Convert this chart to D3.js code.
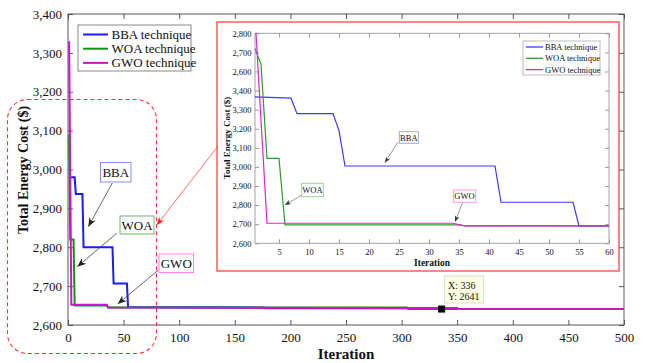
<!DOCTYPE html>
<html>
<head>
<meta charset="utf-8">
<script src="https://cdn.jsdelivr.net/npm/d3@7"></script>
<style>
  body { margin: 0; background: #fff; }
  svg { display: block; }
  text { font-family: "Liberation Serif", "Times New Roman", serif; fill: #111; }
</style>
</head>
<body>
<svg width="648" height="363"></svg>
<script>
// main chart series (iteration, cost)
const bbaX = [1, 6, 7, 13, 14, 40, 41, 53, 54, 176, 177, 350, 351, 500];
const bbaY = [2980, 2980, 2937, 2937, 2800, 2800, 2707, 2707, 2646, 2645, 2643, 2643, 2641, 2641];
const woaX = [1, 2, 5, 6, 35, 36, 305, 306, 500];
const woaY = [3090, 2820, 2820, 2650, 2650, 2645, 2645, 2641, 2641];
const gwoX = [1, 3, 35, 36, 350, 351, 500];
const gwoY = [3330, 2652, 2652, 2645, 2643, 2641, 2641];

// inset series (first 60 iterations, as drawn on the inset axis)
const bbaInX = [1, 7, 8, 14, 15, 16, 41, 42, 54, 55, 60];
const bbaInY = [3367, 3360, 3279, 3279, 3190, 3005, 3005, 2815, 2815, 2691, 2691];
const woaInX = [1, 2, 3, 5, 6, 35, 36, 60];
const woaInY = [3621, 3538, 3045, 3045, 2696, 2696, 2691, 2691];
const gwoInX = [1, 3, 34, 36, 60];
const gwoInY = [3790, 2705, 2705, 2691, 2691];

const names = ['BBA technique', 'WOA technique', 'GWO technique'];
const xTicks = d3.range(0, 501, 50);
const yTicks = d3.range(2600, 3401, 100);
const inXTicks = d3.range(5, 61, 5);
const inYTicks = d3.range(2600, 3701, 100);
const inYLabels = ['2,600', '2,700', '2,800', '2,900', '3,000', '3,100', '3,200', '3,300', '3,400', '2,600', '2,700', '2,800'];

const colors = ['#1a1aff', '#158f15', '#cc14cc'];
const inColors = ['#3a3aff', '#2e9a2e', '#dd22dd'];

const svg = d3.select('svg');
const defs = svg.append('defs');

function arrowMarker(id, color, size) {
  defs.append('marker')
    .attr('id', id)
    .attr('viewBox', '0 0 10 10')
    .attr('refX', 10).attr('refY', 5)
    .attr('markerWidth', size).attr('markerHeight', size)
    .attr('markerUnits', 'userSpaceOnUse')
    .attr('orient', 'auto')
    .append('path')
    .attr('d', 'M0,1 L10,5 L0,9 L3,5 Z')
    .attr('fill', color);
}
arrowMarker('arr', '#222', 9);
arrowMarker('arrS', '#333', 6);
arrowMarker('arrR', '#ff2020', 8);

// ---------- main chart ----------
const x = d3.scaleLinear().domain([0, 500]).range([68, 624]);
const y = d3.scaleLinear().domain([2600, 3400]).range([325, 14]);

defs.append('clipPath').attr('id', 'clipMain')
  .append('rect').attr('x', 68).attr('y', 14).attr('width', 556).attr('height', 311);

const g = svg.append('g');

const axB = g.append('g').attr('transform', 'translate(0,325)')
  .call(d3.axisBottom(x).tickValues(xTicks).tickSize(-5).tickPadding(8).tickFormat(d3.format('d')));
const axT = g.append('g').attr('transform', 'translate(0,14)')
  .call(d3.axisTop(x).tickValues(xTicks).tickSize(-5).tickFormat(''));
const axL = g.append('g').attr('transform', 'translate(68,0)')
  .call(d3.axisLeft(y).tickValues(yTicks).tickSize(-5).tickPadding(6).tickFormat(d3.format(',')));
const axR = g.append('g').attr('transform', 'translate(624,0)')
  .call(d3.axisRight(y).tickValues(yTicks).tickSize(-5).tickFormat(''));
[axB, axT, axL, axR].forEach((a) => {
  a.select('.domain').remove();
  a.selectAll('line').attr('stroke', '#555');
  a.selectAll('text').attr('font-size', 13).attr('font-family', '"Liberation Serif", serif').attr('fill', '#111');
});
g.append('rect').attr('x', 68).attr('y', 14).attr('width', 556).attr('height', 311)
  .attr('fill', 'none').attr('stroke', '#555').attr('stroke-width', 1);

g.append('text').attr('x', 346).attr('y', 359).attr('text-anchor', 'middle')
  .attr('font-size', 15).attr('font-weight', 'bold').text('Iteration');
g.append('text').attr('transform', 'translate(28,170) rotate(-90)').attr('text-anchor', 'middle')
  .attr('font-size', 14).attr('font-weight', 'bold').text('Total Energy Cost ($)');

const line = d3.line().x((d) => x(d[0])).y((d) => y(d[1]));
const mainSeries = [d3.zip(bbaX, bbaY), d3.zip(woaX, woaY), d3.zip(gwoX, gwoY)];
g.append('g').attr('clip-path', 'url(#clipMain)')
  .selectAll('path').data(mainSeries).join('path')
  .attr('d', line)
  .attr('fill', 'none')
  .attr('stroke', (d, i) => colors[i])
  .attr('stroke-width', 2);

// legend
const leg = g.append('g');
leg.append('rect').attr('x', 78).attr('y', 25).attr('width', 113).attr('height', 46)
  .attr('fill', '#fff').attr('stroke', '#888');
names.forEach((n, i) => {
  const yy = 34.5 + i * 14.2;
  leg.append('line').attr('x1', 83).attr('x2', 108).attr('y1', yy).attr('y2', yy)
    .attr('stroke', colors[i]).attr('stroke-width', 2);
  leg.append('text').attr('x', 111.5).attr('y', yy + 4.3).attr('font-size', 13).text(n);
});

// dashed highlight region
g.append('rect').attr('x', 7.5).attr('y', 99.5).attr('width', 149).attr('height', 254)
  .attr('rx', 20).attr('ry', 20)
  .attr('fill', 'none').attr('stroke', '#ff3030').attr('stroke-width', 1.1).attr('stroke-dasharray', '4,3');

// annotations on the main chart
const mainNotes = [
  { t: 'BBA', c: '#8a8aff', bx: 100.5, by: 162.5, bw: 30.5, bh: 19.5, ax: 112.3, ay: 183, tx: 88.3, ty: 226.7 },
  { t: 'WOA', c: '#6ab56a', bx: 120, by: 216, bw: 34, bh: 18, ax: 116.7, ay: 233.3, tx: 77.3, ty: 266.7 },
  { t: 'GWO', c: '#ff80ff', bx: 159, by: 254, bw: 34.5, bh: 18.5, ax: 158.3, ay: 270, tx: 117.7, ty: 304 }
];
mainNotes.forEach((a) => {
  g.append('line').attr('x1', a.ax).attr('y1', a.ay).attr('x2', a.tx).attr('y2', a.ty)
    .attr('stroke', '#444').attr('stroke-width', 0.8).attr('marker-end', 'url(#arr)');
  g.append('rect').attr('x', a.bx).attr('y', a.by).attr('width', a.bw).attr('height', a.bh)
    .attr('fill', '#fff').attr('stroke', a.c).attr('stroke-width', 1);
  g.append('text').attr('x', a.bx + a.bw / 2).attr('y', a.by + a.bh / 2 + 4.5)
    .attr('text-anchor', 'middle').attr('font-size', 13).text(a.t);
});

// data tip
const tipX = 336, tipY = 2641;
g.append('rect').attr('x', 444.5).attr('y', 276).attr('width', 39).attr('height', 27)
  .attr('fill', '#ffffe1').attr('stroke', '#ddd');
g.append('text').attr('x', 448).attr('y', 288.5).attr('font-size', 10)
  .attr('font-family', '"Liberation Sans", Arial, sans-serif').text('X: ' + tipX);
g.append('text').attr('x', 448).attr('y', 299.5).attr('font-size', 10)
  .attr('font-family', '"Liberation Sans", Arial, sans-serif').text('Y: ' + tipY);
g.append('rect').attr('x', x(tipX) - 3.5).attr('y', y(tipY) - 3.5).attr('width', 7).attr('height', 7)
  .attr('fill', '#000');

// ---------- inset ----------
const ix = d3.scaleLinear().domain([1, 60]).range([255, 609]);
const iy = d3.scaleLinear().domain([2600, 3700]).range([243.3, 33.3]);

const ins = svg.append('g');
ins.append('rect').attr('x', 217).attr('y', 22).attr('width', 402).attr('height', 249)
  .attr('fill', '#fff').attr('stroke', '#ff3535').attr('stroke-width', 1.2);

defs.append('clipPath').attr('id', 'clipIn')
  .append('rect').attr('x', 255).attr('y', 33.3).attr('width', 354).attr('height', 210);

const iB = ins.append('g').attr('transform', 'translate(0,243.3)')
  .call(d3.axisBottom(ix).tickValues(inXTicks).tickSize(-4).tickPadding(5.5).tickFormat(d3.format('d')));
const iT = ins.append('g').attr('transform', 'translate(0,33.3)')
  .call(d3.axisTop(ix).tickValues(inXTicks).tickSize(-4).tickFormat(''));
const iL = ins.append('g').attr('transform', 'translate(255,0)')
  .call(d3.axisLeft(iy).tickValues(inYTicks).tickSize(-4).tickPadding(3.5).tickFormat((d, i) => inYLabels[i]));
const iR = ins.append('g').attr('transform', 'translate(609,0)')
  .call(d3.axisRight(iy).tickValues(inYTicks).tickSize(-4).tickFormat(''));
[iB, iT, iL, iR].forEach((a) => {
  a.select('.domain').remove();
  a.selectAll('line').attr('stroke', '#999');
  a.selectAll('text').attr('font-size', 8.5).attr('font-family', '"Liberation Serif", serif').attr('fill', '#222');
});
ins.append('rect').attr('x', 255).attr('y', 33.3).attr('width', 354).attr('height', 210)
  .attr('fill', 'none').attr('stroke', '#999').attr('stroke-width', 0.9);

ins.append('text').attr('x', 432).attr('y', 266).attr('text-anchor', 'middle')
  .attr('font-size', 9.5).attr('font-weight', 'bold').text('Iteration');
ins.append('text').attr('transform', 'translate(230,138) rotate(-90)').attr('text-anchor', 'middle')
  .attr('font-size', 9).attr('font-weight', 'bold').text('Total Energy Cost ($)');

const iline = d3.line().x((d) => ix(d[0])).y((d) => iy(d[1]));
const inSeries = [d3.zip(bbaInX, bbaInY), d3.zip(woaInX, woaInY), d3.zip(gwoInX, gwoInY)];
ins.append('g').attr('clip-path', 'url(#clipIn)')
  .selectAll('path').data(inSeries).join('path')
  .attr('d', iline)
  .attr('fill', 'none')
  .attr('stroke', (d, i) => inColors[i])
  .attr('stroke-width', 1.2);

// inset legend
ins.append('rect').attr('x', 523).attr('y', 41).attr('width', 77).attr('height', 34)
  .attr('fill', '#fff').attr('stroke', '#aaa').attr('stroke-width', 0.8);
names.forEach((n, i) => {
  const yy = 47 + i * 11.3;
  ins.append('line').attr('x1', 526).attr('x2', 543).attr('y1', yy).attr('y2', yy)
    .attr('stroke', inColors[i]).attr('stroke-width', 1.3);
  ins.append('text').attr('x', 545).attr('y', yy + 3).attr('font-size', 8.5).text(n);
});

// inset annotations
const inNotes = [
  { t: 'BBA', c: '#9a9aff', bx: 399.3, by: 131.7, bw: 19, bh: 11.6, ax: 397.7, ay: 142.3, tx: 385, ty: 162.7 },
  { t: 'WOA', c: '#8fcf8f', bx: 301.7, by: 183.3, bw: 21.6, bh: 13.4, ax: 301.7, ay: 195, tx: 285, ty: 205 },
  { t: 'GWO', c: '#ff8cff', bx: 453.3, by: 190, bw: 22.4, bh: 12.3, ax: 462.7, ay: 202.3, tx: 455, ty: 221.7 }
];
inNotes.forEach((a) => {
  ins.append('line').attr('x1', a.ax).attr('y1', a.ay).attr('x2', a.tx).attr('y2', a.ty)
    .attr('stroke', '#555').attr('stroke-width', 0.6).attr('marker-end', 'url(#arrS)');
  ins.append('rect').attr('x', a.bx).attr('y', a.by).attr('width', a.bw).attr('height', a.bh)
    .attr('fill', '#fff').attr('stroke', a.c).attr('stroke-width', 0.9);
  ins.append('text').attr('x', a.bx + a.bw / 2).attr('y', a.by + a.bh / 2 + 3)
    .attr('text-anchor', 'middle').attr('font-size', 8.5).text(a.t);
});

// red pointer from inset to highlighted region
svg.append('line').attr('x1', 218).attr('y1', 146).attr('x2', 156.8).attr('y2', 225)
  .attr('stroke', '#ff3030').attr('stroke-width', 0.7).attr('marker-end', 'url(#arrR)');
</script>
</body>
</html>
